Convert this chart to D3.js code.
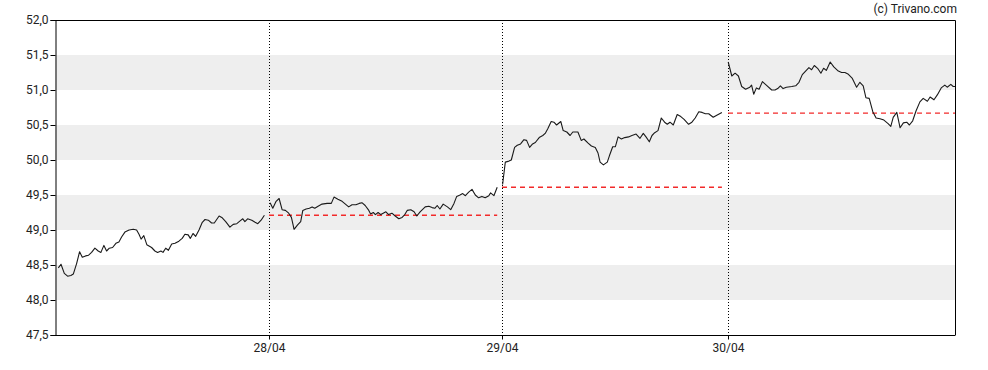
<!DOCTYPE html>
<html>
<head>
<meta charset="utf-8">
<script src="https://cdn.jsdelivr.net/npm/d3@7"></script>
<style>
  html, body { margin: 0; padding: 0; background: #fff; }
  svg { display: block; font-family: Roboto, "Liberation Sans", Arial, sans-serif; }
</style>
</head>
<body>
<svg id="chart" width="988" height="370"></svg>
<script>
// ---- data (x = session position in bar units, y = price) ----
const dayLabels = ["28/04", "29/04", "30/04"];
const dayStarts = [71.33, 149, 224.33];
const xEnd = 300;
const yTicks = [47.5, 48.0, 48.5, 49.0, 49.5, 50.0, 50.5, 51.0, 51.5, 52.0];
const bands = [[48.0, 48.5], [49.0, 49.5], [50.0, 50.5], [51.0, 51.5]];

const day1 = [[1.1,48.46],[2.0,48.51],[3.1,48.38],[4.2,48.34],[5.3,48.35],[6.1,48.37],[7.2,48.52],[8.2,48.69],[9.1,48.61],[10.2,48.63],[11.2,48.64],[12.2,48.68],[13.3,48.74],[14.4,48.70],[15.3,48.68],[16.3,48.78],[17.2,48.70],[18.1,48.74],[19.2,48.75],[20.3,48.81],[21.3,48.83],[22.2,48.90],[23.3,48.97],[24.7,49.00],[26.1,49.01],[27.2,49.00],[28.0,48.94],[28.7,48.87],[29.6,48.92],[30.6,48.79],[32.2,48.75],[33.3,48.70],[34.2,48.68],[35.3,48.70],[36.0,48.68],[36.9,48.74],[37.8,48.71],[38.9,48.80],[40.0,48.81],[41.3,48.84],[42.4,48.88],[43.3,48.94],[44.4,48.93],[45.1,48.88],[46.0,48.95],[46.9,48.91],[48.0,49.00],[49.1,49.11],[50.0,49.15],[51.1,49.14],[52.2,49.10],[53.1,49.10],[54.7,49.20],[55.6,49.18],[56.9,49.12],[58.3,49.04],[59.4,49.08],[60.6,49.09],[61.7,49.13],[62.6,49.16],[63.3,49.12],[64.2,49.16],[65.6,49.14],[66.7,49.11],[67.6,49.09],[68.7,49.14],[69.8,49.21]];

const day2 = [[71.7,49.39],[72.6,49.31],[73.7,49.41],[74.7,49.45],[75.7,49.29],[76.8,49.28],[77.9,49.24],[78.8,49.18],[79.7,49.01],[80.8,49.07],[81.9,49.12],[82.6,49.28],[83.7,49.30],[84.8,49.31],[85.7,49.33],[86.6,49.31],[87.7,49.34],[89.0,49.37],[90.7,49.38],[92.1,49.38],[93.0,49.47],[94.3,49.44],[95.7,49.41],[96.8,49.37],[97.9,49.33],[99.0,49.36],[100.3,49.36],[101.4,49.38],[102.3,49.39],[103.4,49.35],[104.6,49.28],[105.2,49.23],[106.1,49.25],[106.8,49.22],[107.7,49.25],[108.6,49.22],[109.4,49.24],[110.3,49.26],[111.2,49.22],[112.3,49.24],[113.4,49.20],[114.6,49.16],[115.7,49.18],[116.6,49.22],[117.4,49.28],[118.6,49.29],[119.7,49.26],[120.6,49.20],[121.7,49.26],[123.4,49.33],[124.6,49.34],[125.7,49.32],[126.6,49.31],[127.4,49.35],[128.3,49.30],[129.4,49.37],[130.8,49.33],[131.9,49.29],[133.0,49.38],[133.9,49.48],[135.0,49.50],[135.9,49.52],[136.8,49.49],[137.9,49.54],[139.0,49.58],[140.1,49.50],[141.2,49.46],[142.3,49.48],[143.4,49.46],[144.6,49.49],[145.2,49.53],[146.3,49.49],[147.4,49.61]];

const day3 = [[149.2,49.65],[150.1,49.97],[151.0,49.98],[152.1,50.00],[153.2,50.18],[154.1,50.21],[155.2,50.23],[156.3,50.29],[157.2,50.28],[158.2,50.18],[159.2,50.23],[160.1,50.25],[161.4,50.32],[162.6,50.35],[163.4,50.38],[164.3,50.45],[165.4,50.55],[166.3,50.54],[167.2,50.50],[168.6,50.55],[169.4,50.42],[170.6,50.40],[171.7,50.35],[172.6,50.40],[174.3,50.40],[175.4,50.28],[176.3,50.30],[177.7,50.24],[178.8,50.20],[180.1,50.18],[181.0,50.10],[181.7,49.97],[182.8,49.93],[184.1,49.97],[184.8,50.06],[185.9,50.19],[186.8,50.19],[187.7,50.33],[188.8,50.30],[189.9,50.32],[191.2,50.33],[192.3,50.35],[193.7,50.37],[195.0,50.31],[196.1,50.38],[197.0,50.33],[198.1,50.26],[199.0,50.35],[199.9,50.39],[201.0,50.42],[202.1,50.60],[203.2,50.54],[204.1,50.51],[205.0,50.54],[206.1,50.50],[207.4,50.65],[208.6,50.62],[209.7,50.58],[211.2,50.51],[212.3,50.54],[213.4,50.60],[214.6,50.69],[215.7,50.68],[216.8,50.66],[217.9,50.66],[219.4,50.61],[220.6,50.64],[222.3,50.68]];

const day4 = [[224.4,51.40],[225.6,51.20],[226.7,51.24],[227.8,51.20],[228.9,51.05],[230.2,51.01],[231.6,51.04],[232.2,51.07],[232.9,50.94],[233.8,51.03],[234.7,51.01],[235.8,51.12],[237.1,51.07],[238.9,51.00],[240.0,51.00],[240.9,51.02],[241.8,51.06],[242.7,51.02],[243.8,51.04],[245.6,51.05],[246.9,51.06],[248.0,51.11],[249.1,51.22],[250.2,51.27],[251.3,51.32],[252.2,51.29],[253.1,51.35],[254.2,51.31],[255.3,51.24],[256.2,51.31],[257.1,51.28],[258.4,51.40],[259.6,51.33],[261.1,51.27],[262.2,51.25],[263.3,51.25],[264.3,51.23],[265.7,51.17],[267.2,51.04],[268.3,51.11],[269.4,51.06],[270.3,50.89],[271.4,50.88],[272.6,50.69],[273.7,50.60],[275.0,50.59],[276.3,50.57],[277.7,50.52],[278.6,50.48],[279.4,50.61],[280.6,50.68],[281.7,50.46],[282.8,50.53],[283.9,50.54],[284.8,50.50],[285.9,50.56],[287.0,50.70],[288.3,50.83],[289.4,50.88],[290.8,50.84],[291.7,50.90],[293.0,50.86],[294.1,50.93],[295.4,51.03],[296.6,51.07],[297.4,51.04],[298.6,51.08],[299.4,51.05],[300.0,51.05]];

// previous-close reference per day: [start, end, value]
const refLines = [[71.33, 147.4, 49.21], [149, 222.3, 49.61], [224.33, 300, 50.67]];

// ---- layout ----
const svg = d3.select("#chart");
const margin = { left: 55, right: 33, top: 20, bottom: 35 };
const W = 988, H = 370;
const x = d3.scaleLinear().domain([0, xEnd]).range([margin.left, W - margin.right]);
const y = d3.scaleLinear().domain([47.5, 52.0]).range([H - margin.bottom, margin.top]);

// bands
svg.append("g").selectAll("rect").data(bands).join("rect")
  .attr("x", x(0)).attr("width", x(xEnd) - x(0))
  .attr("y", d => y(d[1])).attr("height", d => y(d[0]) - y(d[1]))
  .attr("fill", "#eeeeee");

// day separators
svg.append("g").selectAll("line").data(dayStarts).join("line")
  .attr("x1", d => Math.round(x(d)) + 0.5).attr("x2", d => Math.round(x(d)) + 0.5)
  .attr("y1", y(52)).attr("y2", y(47.5))
  .attr("stroke", "#000").attr("stroke-width", 1).attr("stroke-dasharray", "1,2");

// reference dashed lines
svg.append("g").selectAll("line").data(refLines).join("line")
  .attr("x1", d => x(d[0])).attr("x2", d => x(d[1]))
  .attr("y1", d => y(d[2])).attr("y2", d => y(d[2]))
  .attr("stroke", "#f22a2a").attr("stroke-width", 1.4).attr("stroke-dasharray", "5,4");

// price line
const line = d3.line().x(d => x(d[0])).y(d => y(d[1]));
svg.append("g").selectAll("path").data([day1, day2, day3, day4]).join("path")
  .attr("d", line).attr("fill", "none")
  .attr("stroke", "#1a1a1a").attr("stroke-width", 1.1).attr("stroke-linejoin", "round");

// frame (top and right)
svg.append("path")
  .attr("d", `M${x(0)},${y(52) + 0.5}H${Math.round(x(xEnd)) + 0.5}V${y(47.5)}`)
  .attr("fill", "none").attr("stroke", "#000").attr("stroke-width", 1);

// y axis
const fmt = v => d3.format(".1f")(v).replace(".", ",");
const yAxis = svg.append("g")
  .attr("transform", `translate(${x(0) + 0.5},0)`)
  .call(d3.axisLeft(y).tickValues(yTicks).tickFormat(fmt).tickSize(5).tickPadding(2));
yAxis.selectAll("text").attr("font-size", 12).attr("fill", "#222").attr("font-family", "Roboto, 'Liberation Sans', Arial, sans-serif");
yAxis.selectAll("line, path").attr("stroke", "#000");

// x axis
const xAxis = svg.append("g")
  .attr("transform", `translate(0,${y(47.5) + 0.5})`)
  .call(d3.axisBottom(x).tickValues(dayStarts).tickFormat((d, i) => dayLabels[i]).tickSize(4).tickPadding(4));
xAxis.selectAll("text").attr("font-size", 12).attr("fill", "#222").attr("font-family", "Roboto, 'Liberation Sans', Arial, sans-serif");
xAxis.selectAll("line, path").attr("stroke", "#000");
xAxis.select(".domain").attr("d", `M${x(0)},0H${Math.round(x(xEnd)) + 0.5}`);

// credit
svg.append("text").attr("x", 957).attr("y", 13).attr("text-anchor", "end")
  .attr("font-size", 12).attr("fill", "#222").text("(c) Trivano.com");
</script>
</body>
</html>
